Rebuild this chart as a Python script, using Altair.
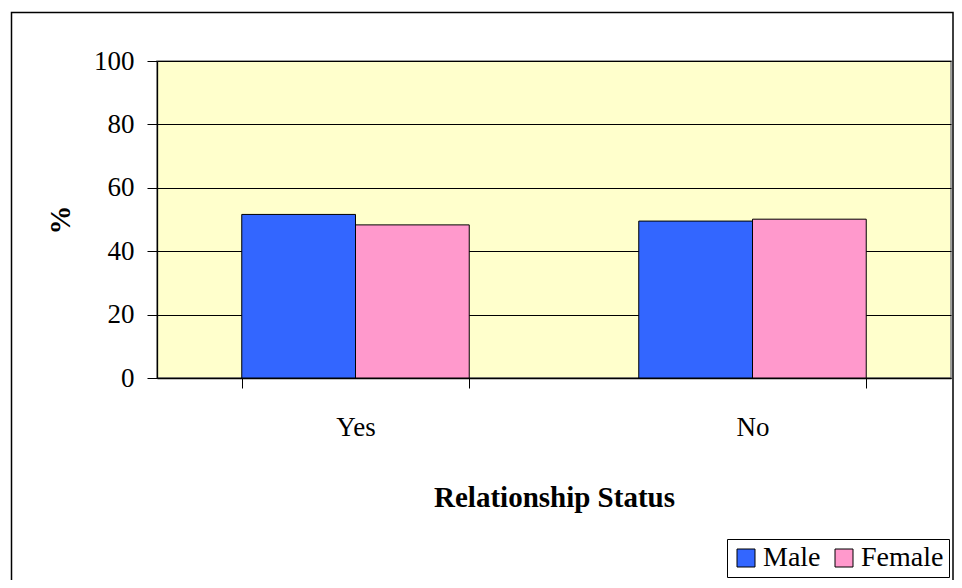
import altair as alt
import pandas as pd

categories = ["Yes", "No"]
genders = ["Male", "Female"]
male = [51.6, 49.5]
female = [48.3, 50.1]
colors = ["#3366FF", "#FF99CC"]

rows = []
for i, c in enumerate(categories):
    rows.append({"status": c, "gender": "Male", "pct": male[i]})
    rows.append({"status": c, "gender": "Female", "pct": female[i]})
df = pd.DataFrame(rows)

FONT = "Liberation Serif"
W, H = 794, 317
PAD_L, PAD_T = 149, 53

bars = alt.Chart(df).mark_bar(stroke="black", strokeWidth=1).encode(
    x=alt.X("status:N", sort=categories,
            scale=alt.Scale(paddingInner=0.427, paddingOuter=0.2135),
            axis=alt.Axis(title="Relationship Status", labelAngle=0, tickBand="extent",
                          tickSize=10, labelPadding=26, titlePadding=43,
                          domainColor="black", tickColor="black", domainWidth=1.3)),
    xOffset=alt.XOffset("gender:N", sort=genders),
    y=alt.Y("pct:Q", scale=alt.Scale(domain=[0, 100]),
            axis=alt.Axis(title="%", values=[0, 20, 40, 60, 80, 100], tickSize=10,
                          labelPadding=13, titlePadding=18, grid=True,
                          gridColor="black", gridWidth=1.2,
                          domainColor="black", tickColor="black", domainWidth=1.3)),
    color=alt.Color("gender:N", sort=genders,
                    scale=alt.Scale(domain=genders, range=colors),
                    legend=alt.Legend(title=None, orient="none", legendX=570, legendY=478,
                                      direction="horizontal", strokeColor="black",
                                      fillColor="white", padding=5, columnPadding=9,
                                      symbolType="square", symbolSize=324,
                                      symbolStrokeColor="black", symbolStrokeWidth=1,
                                      symbolOpacity=1, labelFontSize=28, labelFont=FONT,
                                      labelOffset=3, labelColor="black")),
)

border = alt.Chart(alt.Data(values=[{}])).mark_rect(
    fillOpacity=0, stroke="black", strokeWidth=1.5
).encode(
    x=alt.value(-145.5), x2=alt.value(796), y=alt.value(-48.5), y2=alt.value(530)
)

chart = alt.layer(border, bars).properties(
    width=W, height=H,
    autosize=alt.AutoSizeParams(type="none"),
    padding={"left": PAD_L, "top": PAD_T, "right": 3, "bottom": 202},
    background="white",
).configure(
    font=FONT
).configure_view(
    fill="#FFFFCC", stroke="#808080", strokeWidth=1.5
).configure_axis(
    labelFont=FONT, titleFont=FONT, labelFontSize=27, titleFontSize=29,
    labelColor="black", titleColor="black", titleFontWeight="bold",
    labelFontWeight="normal"
).configure_legend(
    labelFont=FONT, labelFontSize=28, labelColor="black"
)

chart.save("out.html", embed_options={"renderer": "svg", "actions": False})
